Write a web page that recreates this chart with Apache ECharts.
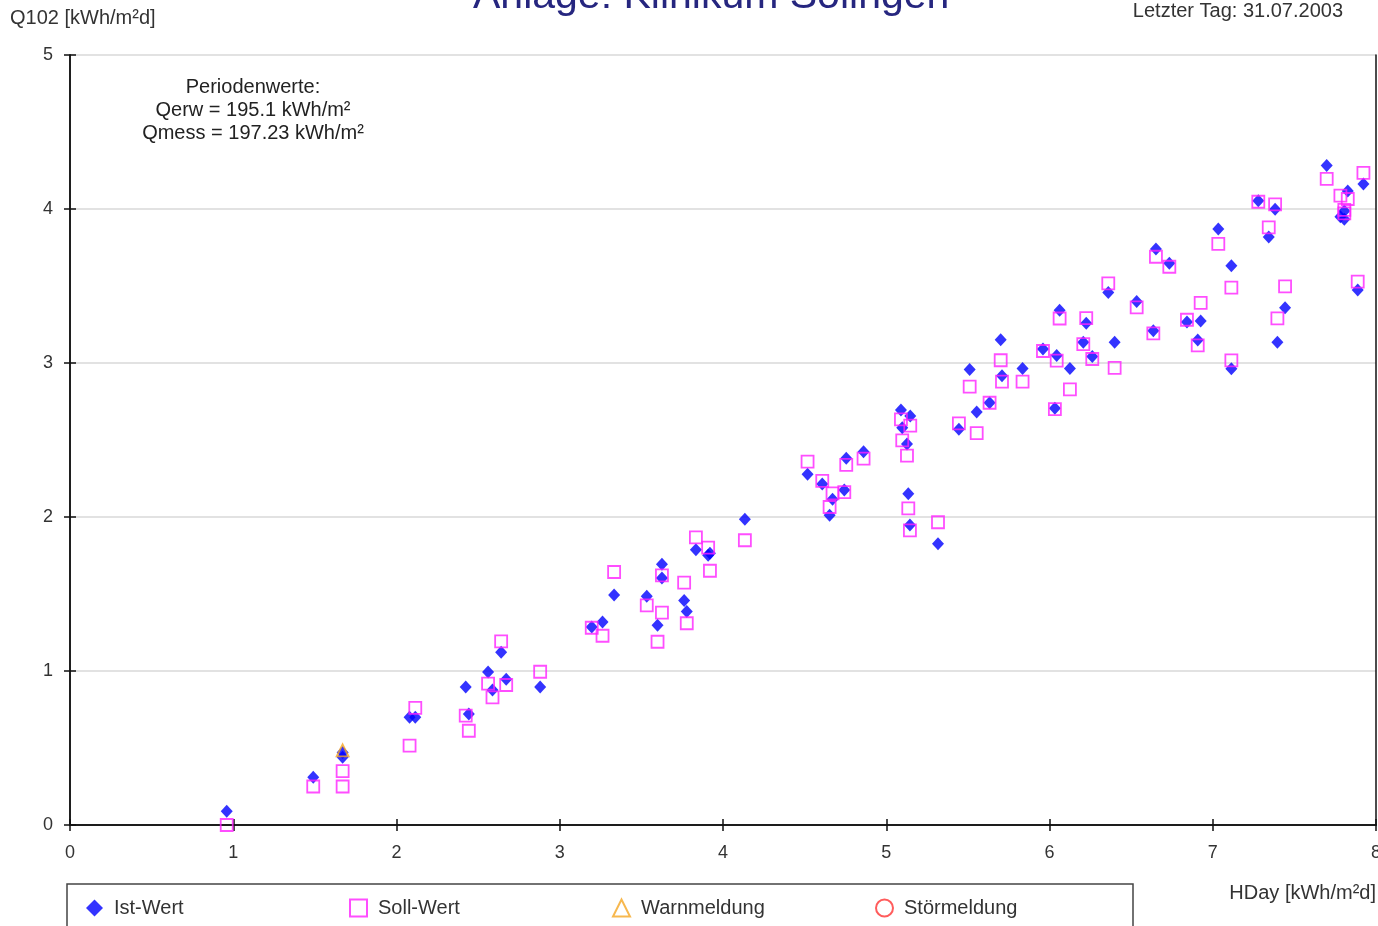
<!DOCTYPE html>
<html>
<head>
<meta charset="utf-8">
<script src="https://cdn.jsdelivr.net/npm/echarts@6/dist/echarts.min.js"></script>
<style>
html,body{margin:0;padding:0;background:#fff;}
#chart{width:1378px;height:926px;}
</style>
</head>
<body>
<div id="chart"></div>
<script>
// ---- data ----
const xTicks = [0, 1, 2, 3, 4, 5, 6, 7, 8];
const yTicks = [0, 1, 2, 3, 4, 5];

const hday = [
  0.96, 1.49, 1.67, 1.67, 2.08, 2.115, 2.424, 2.443, 2.561, 2.588,
  2.641, 2.672, 2.88, 3.196, 3.262, 3.333, 3.533, 3.599, 3.626, 3.626,
  3.762, 3.778, 3.834, 3.909, 3.92, 4.134, 4.518, 4.608, 4.671, 4.653,
  4.743, 4.755, 4.861, 5.09, 5.147, 5.098, 5.127, 5.135, 5.145, 5.317,
  5.445, 5.554, 5.633, 5.511, 5.701, 5.709, 5.835, 5.96, 6.033, 6.044,
  6.062, 6.125, 6.207, 6.225, 6.262, 6.36, 6.399, 6.534, 6.636, 6.652,
  6.734, 6.842, 6.908, 6.926, 7.034, 7.114, 7.114, 7.279, 7.343, 7.382,
  7.396, 7.443, 7.698, 7.782, 7.806, 7.806, 7.827, 7.888, 7.923
];
const istWert = [
  0.09, 0.31, 0.47, 0.44, 0.70, 0.70, 0.896, 0.72, 0.993, 0.877,
  1.121, 0.946, 0.896, 1.286, 1.318, 1.494, 1.485, 1.297, 1.693, 1.604,
  1.457, 1.387, 1.788, 1.751, 1.765, 1.985, 2.277, 2.214, 2.115, 2.011,
  2.175, 2.381, 2.424, 2.695, 2.656, 2.58, 2.474, 2.151, 1.948, 1.827,
  2.569, 2.682, 2.742, 2.957, 3.151, 2.918, 2.965, 3.091, 2.706, 3.048,
  3.342, 2.965, 3.134, 3.258, 3.043, 3.457, 3.134, 3.40, 3.21, 3.74,
  3.647, 3.266, 3.149, 3.273, 3.87, 3.632, 2.963, 4.054, 3.818, 3.998,
  3.134, 3.359, 4.283, 3.95, 3.933, 3.987, 4.117, 3.474, 4.162
];
const sollWert = [
  0.0, 0.25, 0.35, 0.25, 0.515, 0.76, 0.71, 0.612, 0.918, 0.829,
  1.193, 0.909, 0.995, 1.281, 1.229, 1.643, 1.426, 1.19, 1.621, 1.379,
  1.574, 1.31, 1.868, 1.801, 1.651, 1.849, 2.359, 2.234, 2.153, 2.065,
  2.162, 2.338, 2.379, 2.634, 2.593, 2.498, 2.398, 2.056, 1.913, 1.966,
  2.608, 2.545, 2.742, 2.846, 3.018, 2.879, 2.879, 3.078, 2.701, 3.015,
  3.289, 2.829, 3.123, 3.292, 3.026, 3.517, 2.968, 3.361, 3.192, 3.69,
  3.625, 3.281, 3.115, 3.39, 3.773, 3.489, 3.017, 4.047, 3.881, 4.03,
  3.29, 3.498, 4.195, 4.087, 3.972, 3.994, 4.065, 3.528, 4.234
];
const warnX = [1.67];
const warnY = [0.485];
const stoerX = [];
const stoerY = [];

const seriesNames = ['Ist-Wert', 'Soll-Wert', 'Warnmeldung', 'Störmeldung'];
const titleText = 'Anlage: Klinikum Solingen';
const yName = 'Q102 [kWh/m²d]';
const xName = 'HDay [kWh/m²d]';
const lastDay = 'Letzter Tag: 31.07.2003';
const periodLines = ['Periodenwerte:', 'Qerw = 195.1 kWh/m²', 'Qmess = 197.23 kWh/m²'];

// ---- build ----
const zip = (xs, ys) => xs.map((x, i) => [x, ys[i]]);
const FONT = '"Liberation Sans", Arial, sans-serif';
const TXT = '#333333';

const chart = echarts.init(document.getElementById('chart'), null, {renderer: 'canvas'});

const baseAxisCommon = {
  min: 0,
  axisLine: {show: true, onZero: false, lineStyle: {color: '#111', width: 1.5}},
  splitLine: {show: false}
};

const option = {
  backgroundColor: '#ffffff',
  animation: false,
  textStyle: {fontFamily: FONT},
  title: {
    text: titleText,
    left: 468,
    top: -29,
    textStyle: {fontFamily: FONT, fontSize: 41, fontWeight: 'normal', color: '#26267f'}
  },
  grid: {left: 70, right: 2, top: 55, bottom: 101, containLabel: false, outerBoundsMode: 'none'},
  xAxis: [
    Object.assign({}, baseAxisCommon, {
      type: 'value', max: 8, interval: 1, position: 'bottom',
      axisTick: {show: true, inside: false, length: 6, lineStyle: {color: '#111', width: 1.5}},
      axisLabel: {show: true, margin: 19, fontSize: 18, color: TXT, fontFamily: FONT}
    }),
    Object.assign({}, baseAxisCommon, {
      type: 'value', max: 8, interval: 1, position: 'bottom',
      axisTick: {show: true, inside: true, length: 6, lineStyle: {color: '#111', width: 1.5}},
      axisLabel: {show: false}
    })
  ],
  yAxis: [
    Object.assign({}, baseAxisCommon, {
      type: 'value', max: 5, interval: 1, position: 'left',
      axisTick: {show: true, inside: false, length: 6, lineStyle: {color: '#111', width: 1.5}},
      axisLabel: {show: true, margin: 17, fontSize: 18, color: TXT, fontFamily: FONT},
      splitLine: {show: true, lineStyle: {color: '#d9d9d9', width: 1.5}}
    }),
    Object.assign({}, baseAxisCommon, {
      type: 'value', max: 5, interval: 1, position: 'left',
      axisTick: {show: true, inside: true, length: 6, lineStyle: {color: '#111', width: 1.5}},
      axisLabel: {show: false}
    }),
    Object.assign({}, baseAxisCommon, {
      type: 'value', max: 5, interval: 1, position: 'right',
      axisLine: {show: true, onZero: false, lineStyle: {color: '#111', width: 1.5}},
      axisTick: {show: false},
      axisLabel: {show: false}
    })
  ],
  legend: seriesNames.map((n, i) => ({
    data: [n],
    left: 81 + i * 263,
    top: 893,
    itemWidth: 17,
    itemHeight: 17,
    itemGap: 10,
    textStyle: {fontSize: 20, color: TXT, fontFamily: FONT, padding: [0, 0, 0, 6]}
  })),
  series: [
    {
      name: seriesNames[0], type: 'scatter', data: zip(hday, istWert),
      symbol: 'diamond', symbolSize: [12, 13],
      itemStyle: {color: '#0000ff'}, z: 2
    },
    {
      name: seriesNames[1], type: 'scatter', data: zip(hday, sollWert),
      symbol: 'rect', symbolSize: 12,
      itemStyle: {color: 'rgba(255,255,255,0)', borderColor: '#ff22ff', borderWidth: 1.8}, z: 3
    },
    {
      name: seriesNames[2], type: 'scatter', data: zip(warnX, warnY),
      symbol: 'triangle', symbolSize: 12,
      itemStyle: {color: 'rgba(255,255,255,0)', borderColor: '#f5a623', borderWidth: 1.8}, z: 4
    },
    {
      name: seriesNames[3], type: 'scatter', data: zip(stoerX, stoerY),
      symbol: 'circle', symbolSize: 14,
      itemStyle: {color: 'rgba(255,255,255,0)', borderColor: '#ff3333', borderWidth: 1.5}, z: 4
    }
  ],
  graphic: [
    {type: 'text', left: 10, top: 8, style: {text: yName, fontSize: 20, fill: TXT, fontFamily: FONT}},
    {type: 'text', right: 35, top: 1, style: {text: lastDay, fontSize: 20, fill: TXT, fontFamily: FONT}},
    {type: 'text', right: 2, top: 883, style: {text: xName, fontSize: 20, fill: TXT, fontFamily: FONT}},
    {type: 'text', x: 253, y: 76, style: {text: periodLines.join('\n'), fontSize: 20, lineHeight: 23, fill: '#222', fontFamily: FONT, align: 'center'}},
    {type: 'rect', shape: {x: 67, y: 884, width: 1066, height: 60}, style: {fill: 'none', stroke: '#444', lineWidth: 1.5}, z: -1}
  ]
};
chart.setOption(option);
</script>
</body>
</html>
